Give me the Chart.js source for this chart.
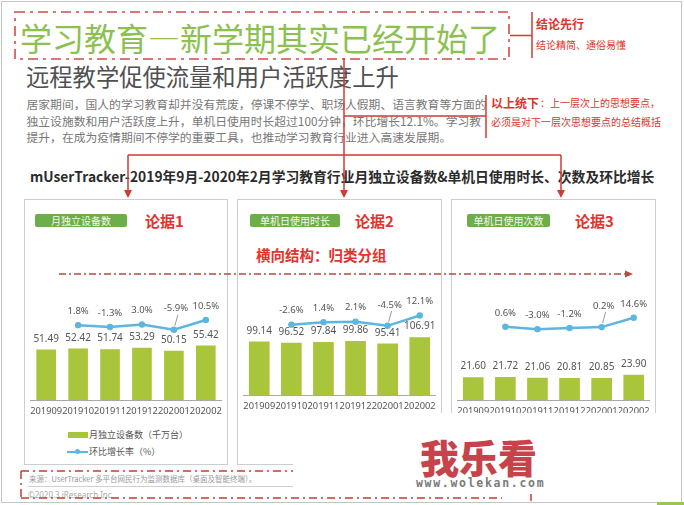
<!DOCTYPE html>
<html lang="zh-CN">
<head>
<meta charset="utf-8">
<script src="https://cdn.jsdelivr.net/npm/chart.js@4.4.1/dist/chart.umd.min.js"></script>
<style>
html,body{margin:0;padding:0;background:#fff;}
body{width:684px;height:505px;position:relative;overflow:hidden;font-family:"Noto Sans CJK SC","Noto Sans",sans-serif;}
.t{position:absolute;white-space:nowrap;line-height:1;z-index:2;}
.panel{position:absolute;border:1px solid #cdcdcd;box-sizing:border-box;background:#fff;z-index:1;}
canvas{position:absolute;z-index:2;}
.tag{position:absolute;background:#6cae4a;color:#f2f9ee;font-size:10px;line-height:13px;height:13px;text-align:center;border-radius:2px;z-index:2;}
.proof{position:absolute;color:#e5322d;font-weight:700;font-size:15px;line-height:1;white-space:nowrap;z-index:2;}
</style>
</head>
<body>
<div class="t" style="left:20px;top:20.5px;font-size:32px;color:#8cc14f;font-weight:400;">学习教育—新学期其实已经开始了</div>
<div class="t" style="left:536px;top:18.3px;font-size:12px;font-weight:700;color:#e0332c;">结论先行</div>
<div class="t" style="left:536px;top:39.5px;font-size:10px;color:#e0332c;">结论精简、通俗易懂</div>
<div class="t" style="left:26px;top:65px;font-size:23.3px;color:#505050;">远程教学促使流量和用户活跃度上升</div>
<div class="t" style="left:26.5px;top:96px;font-size:11.8px;line-height:16.5px;color:#777;">居家期间，国人的学习教育却并没有荒废，停课不停学、职场人假期、语言教育等方面的<br>独立设施数和用户活跃度上升，单机日使用时长超过100分钟，环比增长12.1%。学习教<br>提升，在成为疫情期间不停学的重要工具，也推动学习教育行业进入高速发展期。</div>
<div style="position:absolute;left:487px;top:93px;width:193px;height:40px;background:#fff;z-index:4;"></div>
<div class="t" style="left:491px;top:96.8px;font-size:12px;font-weight:700;color:#e0332c;z-index:5;">以上统下</div>
<div class="t" style="left:540px;top:98px;font-size:10px;color:#e0332c;z-index:5;">：上一层次上的思想要点，</div>
<div class="t" style="left:491px;top:116.5px;font-size:10px;color:#e0332c;z-index:5;">必须是对下一层次思想要点的总结概括</div>
<div class="t" style="left:30px;top:170.3px;font-size:13.8px;font-weight:700;color:#2b2b2b;">mUserTracker-2019年9月-2020年2月学习教育行业月独立设备数&amp;单机日使用时长、次数及环比增长</div>

<div class="panel" style="left:24px;top:199px;width:204px;height:266px;"></div>
<div class="panel" style="left:237px;top:199px;width:205px;height:266px;"></div>
<div class="panel" style="left:451px;top:199px;width:205px;height:266px;"></div>

<div class="tag" style="left:35px;top:214px;width:92px;">月独立设备数</div>
<div class="tag" style="left:250px;top:214px;width:90px;">单机日使用时长</div>
<div class="tag" style="left:467px;top:214px;width:83px;">单机日使用次数</div>
<div class="proof" style="left:145px;top:212.7px;">论据1</div>
<div class="proof" style="left:355px;top:212.7px;">论据2</div>
<div class="proof" style="left:575px;top:212.7px;">论据3</div>
<div class="proof" style="left:256px;top:248px;font-size:14.5px;">横向结构：归类分组</div>

<canvas id="c1" width="204" height="138" style="left:24px;top:280px;"></canvas>
<canvas id="c2" width="205" height="133" style="left:237px;top:280px;"></canvas>
<canvas id="c3" width="205" height="138" style="left:451px;top:280px;"></canvas>

<div style="position:absolute;left:68px;top:432px;width:20px;height:6px;background:#a9c53c;z-index:2;"></div>
<div class="t" style="left:89px;top:430px;font-size:9px;color:#555;">月独立设备数（千万台）</div>
<div style="position:absolute;left:67px;top:451px;width:21px;height:1.5px;background:#5cb6df;z-index:2;"></div>
<div style="position:absolute;left:75px;top:449.3px;width:5px;height:5px;border-radius:50%;background:#5cb6df;z-index:2;"></div>
<div class="t" style="left:89px;top:447px;font-size:9px;color:#555;">环比增长率（%）</div>

<div class="t" style="left:29px;top:474.8px;font-size:7.5px;color:#999;">来源：UserTracker 多平台网民行为监测数据库（桌面及智能终端）。</div>
<div style="position:absolute;left:28px;top:486px;width:265px;height:1px;background:#d0d0d0;z-index:2;"></div>
<div class="t" style="left:28px;top:490.6px;font-size:8px;color:#aaa;font-family:'Noto Sans',sans-serif;">©2020.3 iResearch Inc.</div>

<svg width="684" height="505" style="position:absolute;left:0;top:0;z-index:3;">
  <rect x="1.5" y="1.5" width="680" height="501" fill="none" stroke="#c4c4c4"/>
  <rect x="15" y="12" width="494" height="47" fill="none" stroke="#d24b45" stroke-width="1.6" stroke-dasharray="10 5 3 5"/>
  <g stroke="#cf3b35" stroke-width="1.5" fill="none">
    <path d="M510 35.5H532M532 12V58"/>
    <path d="M344 58V192"/>
    <path d="M128 155H561M128 155V192M561 155V192"/>
    <path d="M344 116H486M486 95V138"/>
  </g>
  <g fill="#cf3b35">
    <path d="M340 190L348 190L344 198Z"/>
    <path d="M124 190L132 190L128 198Z"/>
    <path d="M557 190L565 190L561 198Z"/>
  </g>
  <path d="M59 274H626" stroke="#b84a40" stroke-width="1.6" stroke-dasharray="7 3 2 3" fill="none"/>
  <path d="M625 270.5L633 274L625 277.5Z" fill="#b84a40"/>
  <path d="M21 471H293M21 498H502M21 471V498" stroke="#c93b33" stroke-width="1.5" stroke-dasharray="8 4 2 4" fill="none"/>
  <path d="M531 494V501" stroke="#c93b33" stroke-width="1.5"/>
</svg>

<div style="position:absolute;left:293px;top:413px;width:388px;height:81px;background:#fff;z-index:6;"></div>
<div class="t" style="left:420px;top:437.4px;font-size:39px;font-weight:900;color:#c7434b;z-index:7;">我乐看</div>
<div class="t" style="left:416px;top:478px;font-size:11.5px;font-weight:700;letter-spacing:1.7px;color:#7a7a7a;font-family:'DejaVu Sans Mono',monospace;z-index:7;">www.wolekan.com</div>
<div style="position:absolute;left:657px;top:502px;width:27px;height:3px;background:#9bc55a;z-index:7;"></div>

<script>
// ---- data ----
const categories = ['201909', '201910', '201911', '201912', '202001', '202002'];
const monthlyDevices = [51.49, 52.42, 51.74, 53.29, 50.15, 55.42];
const monthlyDevicesGrowth = [null, 1.8, -1.3, 3.0, -5.9, 10.5];
const dailyDuration = [99.14, 96.52, 97.84, 99.86, 95.41, 106.91];
const dailyDurationGrowth = [null, -2.6, 1.4, 2.1, -4.5, 12.1];
const dailyFrequency = [21.60, 21.72, 21.06, 20.81, 20.85, 23.90];
const dailyFrequencyGrowth = [null, 0.6, -3.0, -1.2, 0.2, 14.6];
const seriesNames = ['月独立设备数（千万台）', '单机日使用时长', '单机日使用次数'];
const growthName = '环比增长率（%）';

const BAR = '#a9c53c', LINE = '#5cb6df';

const valueLabels = {
  id: 'valueLabels',
  afterDatasetsDraw(chart, args, o) {
    const ctx = chart.ctx;
    const lineDs = chart.data.datasets[0], barDs = chart.data.datasets[1];
    const lineEls = chart.getDatasetMeta(0).data, barEls = chart.getDatasetMeta(1).data;
    ctx.save();
    ctx.textAlign = 'center';
    ctx.textBaseline = 'middle';
    ctx.fillStyle = '#555';
    ctx.font = '10px "Noto Sans", sans-serif';
    barEls.forEach((el, i) => ctx.fillText(barDs.data[i].toFixed(2), el.x, el.y - 11));
    ctx.font = '9.5px "Noto Sans", sans-serif';
    lineEls.forEach((el, i) => {
      const v = lineDs.data[i];
      if (v === null || v === undefined) return;
      const lead = (o.leaders || []).includes(i);
      const lift = lead ? 21 : 14;
      if (lead) {
        ctx.strokeStyle = '#999';
        ctx.lineWidth = 1;
        ctx.beginPath();
        ctx.moveTo(el.x + 1, el.y - 4);
        ctx.lineTo(el.x + 4, el.y - lift + 6);
        ctx.stroke();
      }
      ctx.fillText(v.toFixed(1) + '%', el.x + (lead ? 2 : 0), el.y - lift);
    });
    ctx.restore();
  }
};

function drawPanel(id, barName, bars, growth, s) {
  return new Chart(document.getElementById(id), {
    type: 'bar',
    data: {
      labels: categories,
      datasets: [
        { type: 'line', label: growthName, data: growth, yAxisID: 'y1', order: 0,
          borderColor: LINE, backgroundColor: LINE, borderWidth: 2.5,
          pointRadius: 3.2, pointBorderWidth: 0, pointBackgroundColor: LINE, tension: 0 },
        { type: 'bar', label: barName, data: bars, yAxisID: 'y', order: 1,
          backgroundColor: BAR, barThickness: s.barW }
      ]
    },
    options: {
      responsive: false, maintainAspectRatio: false, animation: false, events: [],
      layout: { padding: { left: s.padL, right: s.padR, top: 0, bottom: 0 } },
      plugins: { legend: { display: false }, tooltip: { enabled: false }, valueLabels: { leaders: [4] } },
      scales: {
        x: {
          grid: { display: false, drawTicks: false },
          border: { display: true, color: '#a8a8a8', width: 1 },
          ticks: { color: '#555', font: { family: "'Noto Sans', sans-serif", size: 9.3 }, padding: 6,
                   maxRotation: 0, minRotation: 0, autoSkip: false },
          afterFit(a) { a.height = 18; }
        },
        y: { display: false, bounds: 'data', min: 0, max: s.yMax },
        y1: { display: false, bounds: 'data', min: s.y1Min, max: s.y1Max }
      }
    },
    plugins: [valueLabels]
  });
}

drawPanel('c1', seriesNames[0], monthlyDevices, monthlyDevicesGrowth,
  { padL: 4, padR: 5, barW: 19, yMax: 118.8, y1Min: -125.1, y1Max: 71.6 });
drawPanel('c2', seriesNames[1], dailyDuration, dailyDurationGrowth,
  { padL: 4, padR: 6, barW: 20, yMax: 206.5, y1Min: -116.5, y1Max: 63.2 });
drawPanel('c3', seriesNames[2], dailyFrequency, dailyFrequencyGrowth,
  { padL: 5, padR: 5, barW: 20, yMax: 111.4, y1Min: -113.2, y1Max: 67.2 });
</script>
</body>
</html>
